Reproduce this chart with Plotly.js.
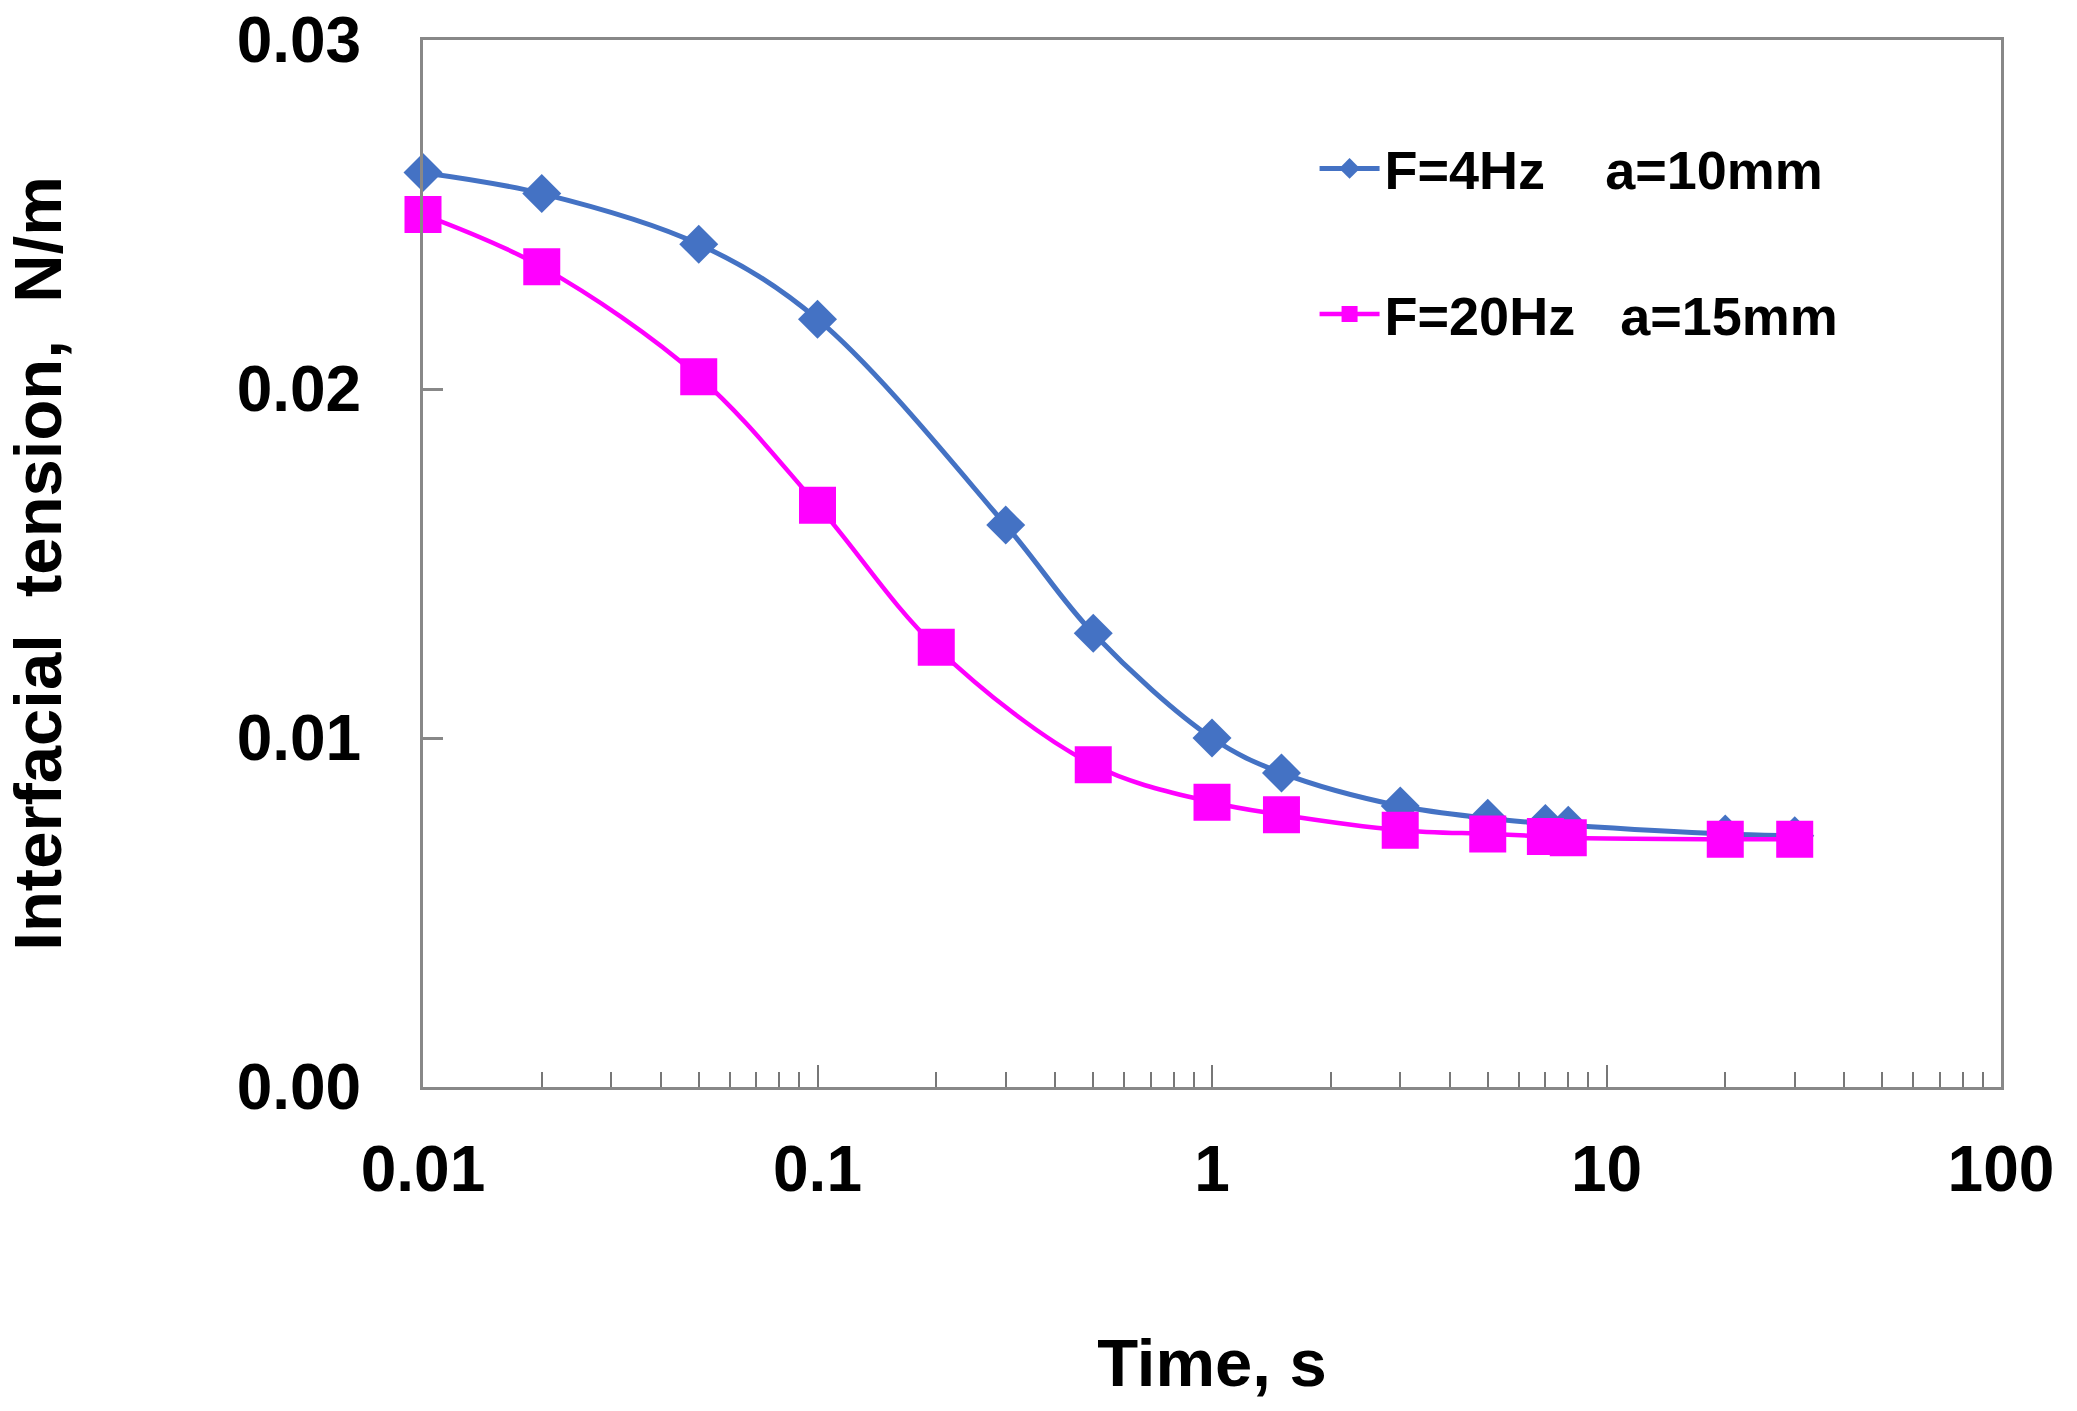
<!DOCTYPE html>
<html>
<head>
<meta charset="utf-8">
<script src="https://cdn.plot.ly/plotly-3.0.1.min.js"></script>
<style>
  html, body { margin: 0; padding: 0; background: #fff; }
  #chart { width: 2077px; height: 1411px; }
</style>
</head>
<body>
<div id="chart"></div>
<script>
// Time, s
const tiempoAzul = [0.01, 0.02, 0.05, 0.1, 0.3, 0.5, 1, 1.5, 3, 5, 7, 8, 20, 30];
const tensionAzul = [0.0262, 0.0256, 0.02415, 0.0220, 0.0161, 0.0130, 0.0100, 0.0090, 0.00805, 0.0077, 0.00755, 0.0075, 0.00725, 0.0072];

const tiempoRosa = [0.01, 0.02, 0.05, 0.1, 0.2, 0.5, 1, 1.5, 3, 5, 7, 8, 20, 30];
const tensionRosa = [0.0250, 0.0235, 0.02035, 0.01667, 0.0126, 0.00923, 0.00816, 0.0078, 0.00736, 0.00725, 0.00718, 0.00714, 0.0071, 0.0071];

const nombreAzul = 'F=4Hz    a=10mm';
const nombreRosa = 'F=20Hz   a=15mm';

const ticksX = [0.01, 0.1, 1, 10, 100];
const textoX = ['0.01', '0.1', '1', '10', '100'];
const ticksY = [0, 0.01, 0.02, 0.03];
const textoY = ['0.00', '0.01', '0.02', '0.03'];

// ticks menores: 2..9 de cada década
const ticksMenores = [];
[0.01, 0.1, 1, 10].forEach(d => {
  for (let k = 2; k <= 9; k++) ticksMenores.push(+(d * k).toPrecision(3));
});

const fuente = 'Liberation Sans, Arial, sans-serif';

const datos = [
  {
    x: tiempoAzul,
    y: tensionAzul,
    name: nombreAzul,
    type: 'scatter',
    mode: 'lines+markers',
    cliponaxis: false,
    line: { color: '#4472C4', width: 5, shape: 'spline', smoothing: 1 },
    marker: { symbol: 'diamond', size: 30, color: '#4472C4' },
    legend: 'legend'
  },
  {
    x: tiempoRosa,
    y: tensionRosa,
    name: nombreRosa,
    type: 'scatter',
    mode: 'lines+markers',
    cliponaxis: false,
    line: { color: '#FF00FF', width: 4.5, shape: 'spline', smoothing: 1 },
    marker: { symbol: 'square', size: 37, color: '#FF00FF' },
    legend: 'legend2'
  }
];

const leyendaBase = {
  font: { family: fuente, size: 54, color: '#000', weight: 'bold' },
  bgcolor: 'rgba(0,0,0,0)',
  borderwidth: 0,
  xanchor: 'left',
  yanchor: 'middle',
  itemwidth: 60
};

const layout = {
  width: 2077,
  height: 1411,
  margin: { l: 423, r: 76, t: 40, b: 324 },
  paper_bgcolor: '#fff',
  plot_bgcolor: '#fff',
  font: { family: fuente, color: '#000', weight: 'bold' },
  showlegend: true,
  legend: Object.assign({}, leyendaBase, { x: 0.565, y: 0.877 }),
  legend2: Object.assign({}, leyendaBase, { x: 0.565, y: 0.738 }),
  xaxis: {
    type: 'log',
    range: [-2, 2],
    tickvals: ticksX,
    ticktext: textoX,
    ticks: 'inside',
    ticklen: 22,
    tickwidth: 2,
    tickcolor: '#777',
    ticklabelstandoff: 24,
    minor: { tickvals: ticksMenores, ticks: 'inside', ticklen: 15, tickwidth: 2, tickcolor: '#777', showgrid: false },
    showgrid: false,
    zeroline: false,
    showline: true,
    linecolor: '#888',
    linewidth: 3,
    mirror: true,
    tickfont: { family: fuente, size: 64, color: '#000', weight: 'bold' },
    title: {
      text: 'Time, s',
      standoff: 136,
      font: { family: fuente, size: 67, color: '#000', weight: 'bold' }
    }
  },
  yaxis: {
    range: [0, 0.03],
    tickvals: ticksY,
    ticktext: textoY,
    ticks: 'inside',
    ticklen: 20,
    tickwidth: 3,
    tickcolor: '#888',
    ticklabelstandoff: 46,
    showgrid: false,
    zeroline: false,
    showline: true,
    linecolor: '#888',
    linewidth: 3,
    mirror: true,
    tickfont: { family: fuente, size: 64, color: '#000', weight: 'bold' },
    title: {
      text: 'Interfacial  tension,  N/m',
      standoff: 156,
      font: { family: fuente, size: 67, color: '#000', weight: 'bold' }
    }
  }
};

Plotly.newPlot('chart', datos, layout, { displayModeBar: false, staticPlot: true });
</script>
</body>
</html>
